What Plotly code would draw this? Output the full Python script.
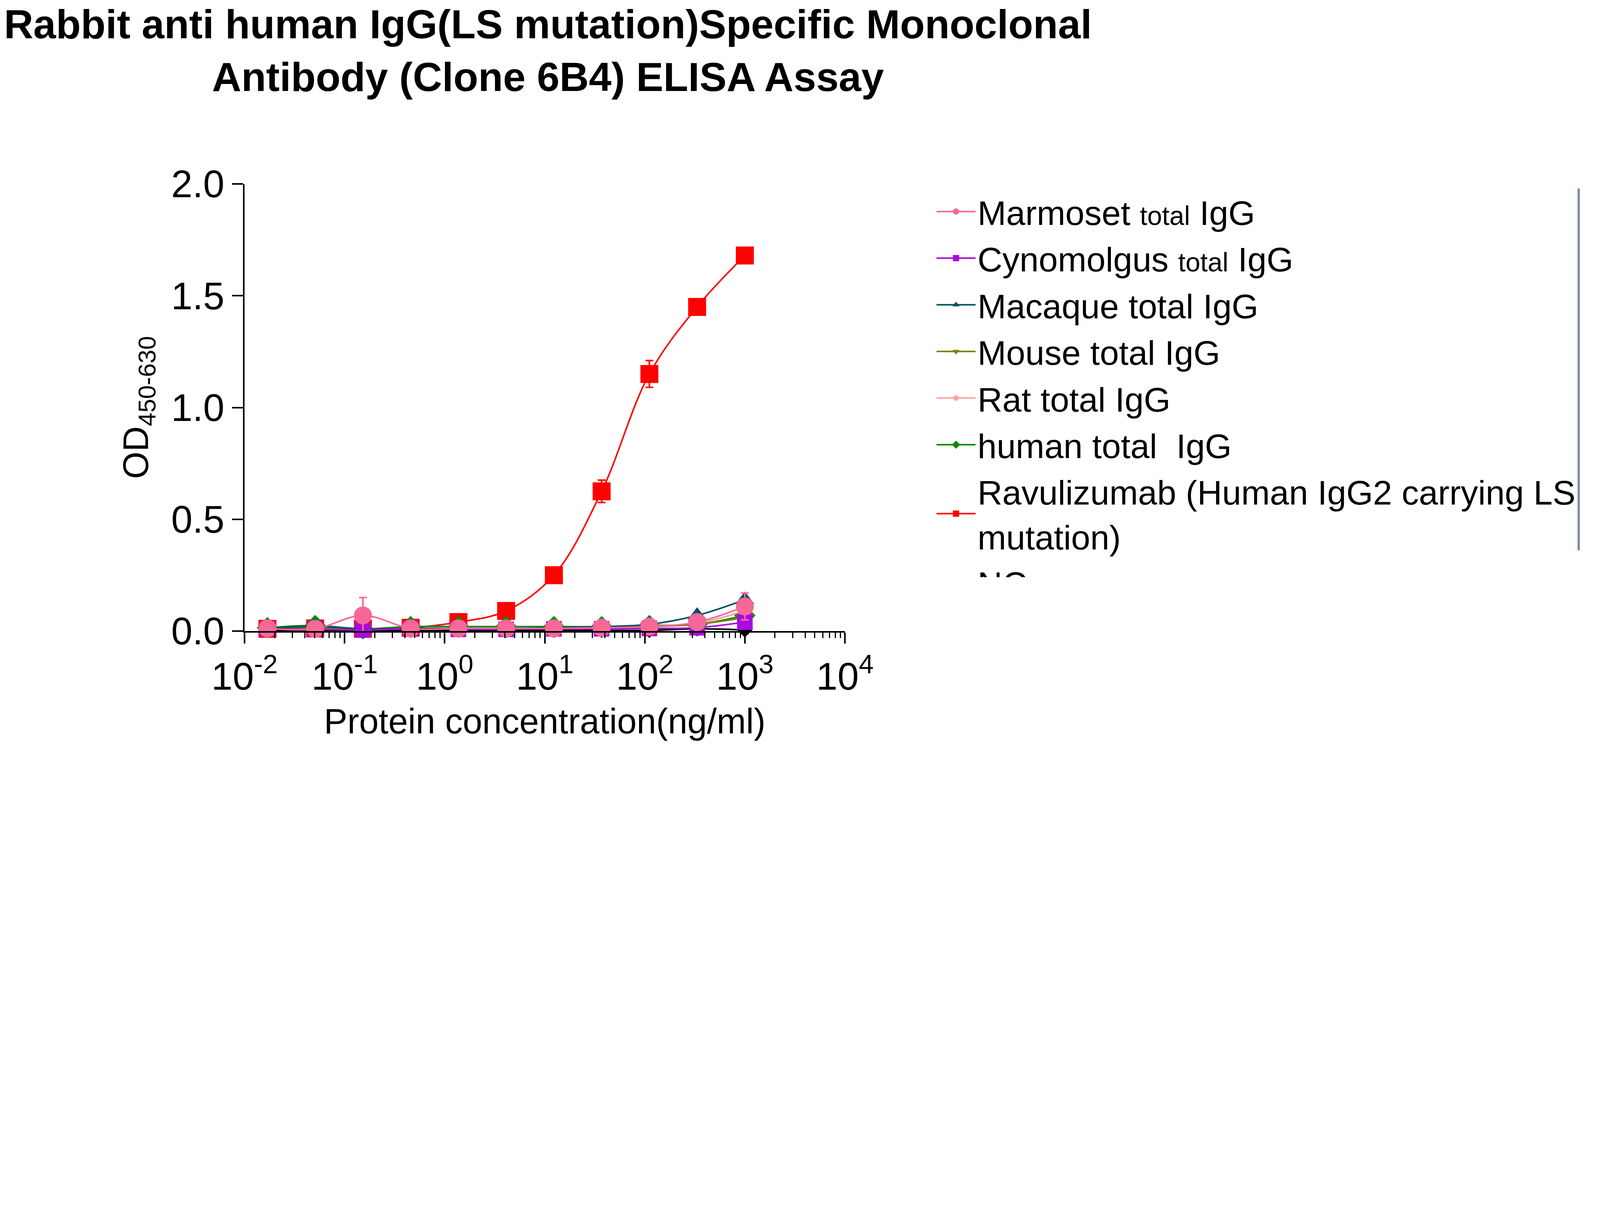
import plotly.graph_objects as go

# concentrations (ng/ml), 3-fold dilution from 1000
conc = [1000, 333.3, 111.1, 37.04, 12.35, 4.115, 1.372, 0.4572, 0.1524, 0.0508, 0.01694]

marmoset = [0.11, 0.04, 0.02, 0.015, 0.012, 0.012, 0.012, 0.012, 0.07, 0.01, 0.012]
marmoset_err = [0.06, 0.005, 0.005, 0.004, 0.004, 0.004, 0.004, 0.004, 0.08, 0.004, 0.004]
cyno = [0.04, 0.015, 0.012, 0.01, 0.01, 0.008, 0.008, 0.01, 0.005, 0.008, 0.01]
macaque = [0.14, 0.07, 0.03, 0.02, 0.015, 0.012, 0.012, 0.012, 0.01, 0.02, 0.012]
mouse = [0.06, 0.03, 0.02, 0.015, 0.012, 0.012, 0.012, 0.012, 0.01, 0.015, 0.012]
rat = [0.09, 0.035, 0.02, 0.015, 0.012, 0.012, 0.012, 0.012, 0.01, 0.015, 0.012]
human = [0.07, 0.03, 0.025, 0.02, 0.02, 0.02, 0.02, 0.02, 0.01, 0.025, 0.015]
ravu = [1.68, 1.45, 1.15, 0.625, 0.25, 0.09, 0.04, 0.015, 0.01, 0.012, 0.01]
ravu_err = [0.02, 0.02, 0.06, 0.05, 0.01, 0.01, 0.01, 0.005, 0.005, 0.005, 0.005]
nc = [0.005, 0.01, 0.003, 0.003, 0.003, 0.003, 0.003, 0.003, 0.003, 0.003, 0.003]

series = [
    ("Marmoset <span style='font-size:68px'>total</span> IgG", marmoset, marmoset_err, "#F7679A", "circle", 46),
    ("Cynomolgus <span style='font-size:68px'>total</span> IgG", cyno, None, "#AA0ADF", "square", 40),
    ("Macaque total IgG", macaque, None, "#06505F", "triangle-up", 42),
    ("Mouse total IgG", mouse, None, "#808000", "triangle-down", 42),
    ("Rat total IgG", rat, None, "#F9A3A3", "pentagon", 42),
    ("human total  IgG", human, None, "#088A08", "diamond", 42),
    ("Ravulizumab (Human IgG2 carrying LS<br>mutation)", ravu, ravu_err, "#FF0000", "square", 46),
    ("NC", nc, None, "#000000", "diamond", 30),
]

fig = go.Figure()
# draw in reverse so marmoset ends on top like the reference
for i, (name, y, err, color, sym, size) in reversed(list(enumerate(series))):
    fig.add_trace(go.Scatter(
        x=conc, y=y, name=name, mode="lines+markers",
        line=dict(color=color, width=4, shape="spline", smoothing=1.0),
        marker=dict(color=color, symbol=sym, size=size),
        error_y=dict(type="data", array=err, color=color, thickness=4, width=10,
                     visible=err is not None),
        legendgroup=str(i), legendrank=i, cliponaxis=False,
    ))

FONT = "Arial, Liberation Sans, sans-serif"
fig.update_layout(
    width=4090, height=2000,
    paper_bgcolor="white", plot_bgcolor="white",
    font=dict(family=FONT, size=90, color="black"),
    margin=dict(l=618, r=1935, t=463, b=392),
    showlegend=True,
    legend=dict(xref="container", yref="container", x=0.583, y=0.765,
                xanchor="left", yanchor="top",
                font=dict(size=88), tracegroupgap=2, itemwidth=100,
                bgcolor="rgba(0,0,0,0)"),
    title=dict(
        text="<b>Rabbit anti human IgG(LS mutation)Specific Monoclonal<br>Antibody (Clone 6B4) ELISA Assay</b>",
        xref="container", yref="container", x=0.341, y=0.955,
        xanchor="center", yanchor="top",
        font=dict(size=104, family=FONT),
    ),
)

fig.update_xaxes(
    type="log", range=[-2, 4],
    tickvals=[0.01, 0.1, 1, 10, 100, 1000, 10000],
    ticktext=["10<sup>-2</sup>", "10<sup>-1</sup>", "10<sup>0</sup>", "10<sup>1</sup>",
              "10<sup>2</sup>", "10<sup>3</sup>", "10<sup>4</sup>"],
    ticks="outside", ticklen=28, tickwidth=4, tickcolor="black",
    minor=dict(ticks="outside", ticklen=14, tickwidth=3, tickcolor="black", dtick="D1"),
    showline=True, linewidth=4, linecolor="black", showgrid=False, zeroline=False,
    tickfont=dict(size=98),
    title=dict(text="Protein concentration(ng/ml)", font=dict(size=90), standoff=30),
)
fig.update_yaxes(
    range=[0, 2], tickvals=[0, 0.5, 1.0, 1.5, 2.0], ticktext=["0.0", "0.5", "1.0", "1.5", "2.0"],
    ticks="outside", ticklen=28, tickwidth=4, tickcolor="black",
    showline=True, linewidth=4, linecolor="black", showgrid=False, zeroline=False,
    tickfont=dict(size=98),
    title=dict(text="OD<sub>450-630</sub>", font=dict(size=90), standoff=30),
)

fig.write_html("out.html")
